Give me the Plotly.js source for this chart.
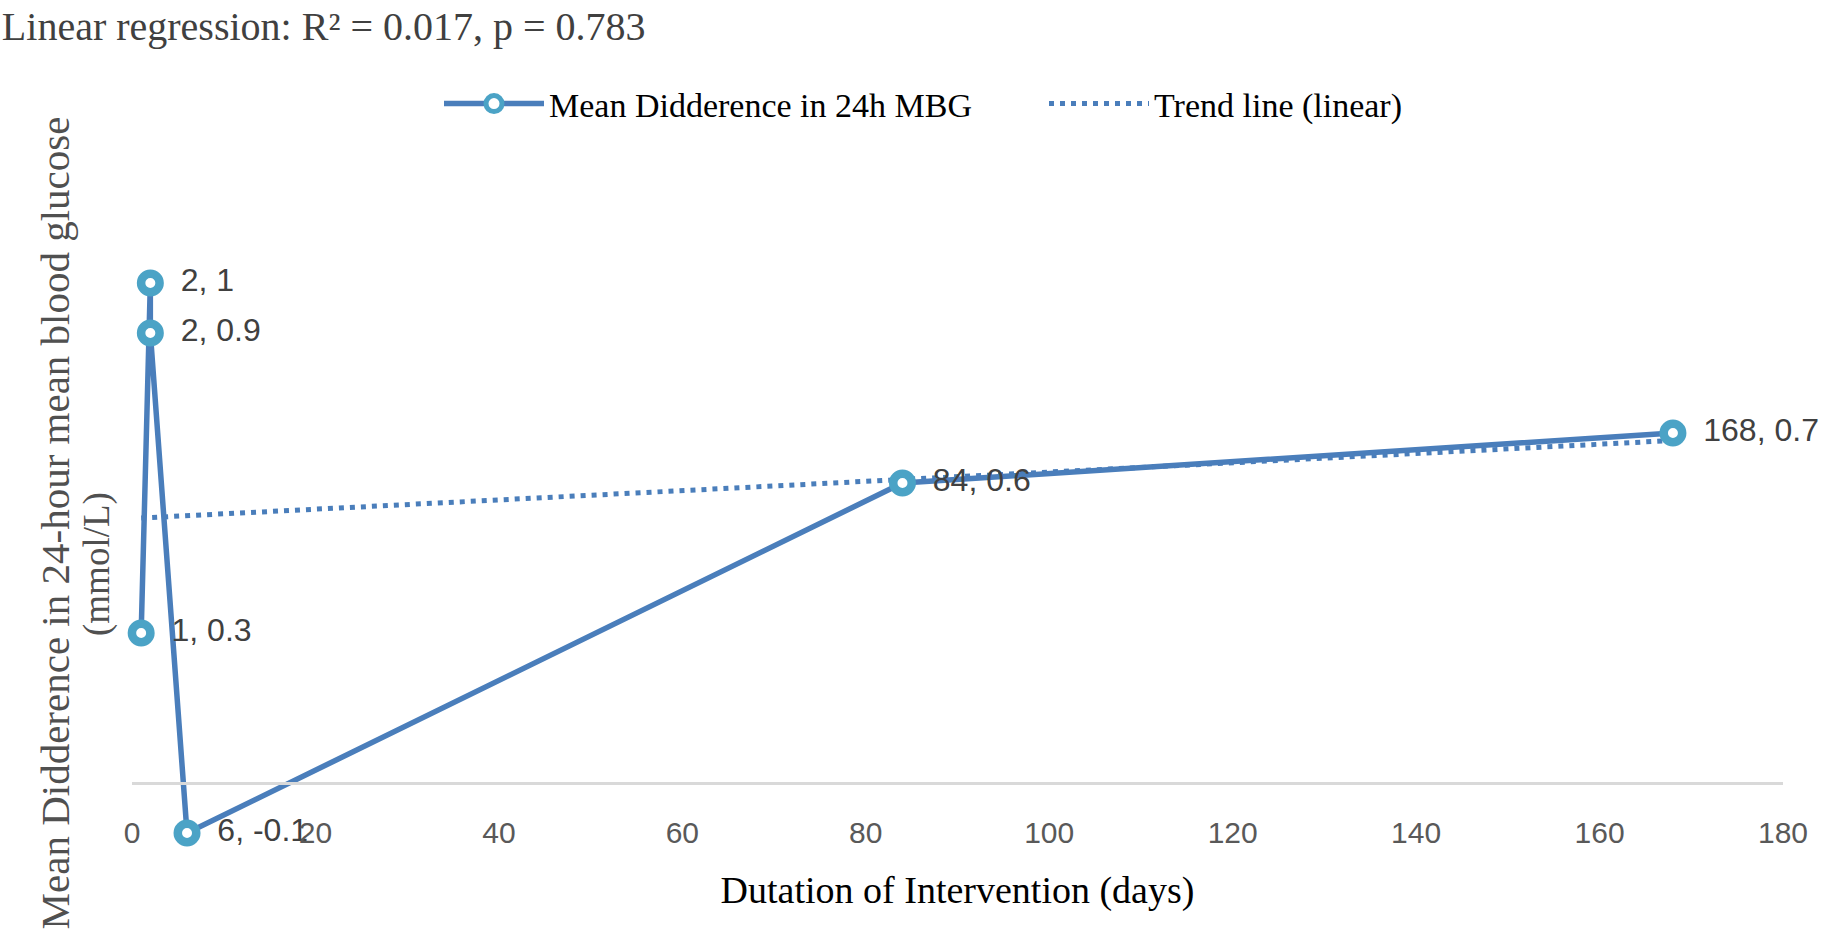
<!DOCTYPE html>
<html>
<head>
<meta charset="utf-8">
<script src="https://cdn.plot.ly/plotly-3.0.1.min.js"></script>
<style>html,body{margin:0;padding:0;background:#fff;}#chart{width:1833px;height:946px;}</style>
</head>
<body>
<div id="chart"></div>
<script>
// Data
const durationDays = [1, 2, 2, 6, 84, 168];
const meanDiffMBG = [0.3, 1, 0.9, -0.1, 0.6, 0.7];
const trendX = [1, 168];
const trendY = [0.53, 0.685];
const xTickVals = [0, 20, 40, 60, 80, 100, 120, 140, 160, 180];

const seriesName = 'Mean Didderence in 24h MBG';
const trendName = 'Trend line (linear)';
const titleText = 'Linear regression: R² = 0.017, p = 0.783';
const xTitle = 'Dutation of Intervention (days)';
const yTitle = 'Mean Didderence in 24-hour mean blood glucose';
const yUnit = '(mmol/L)';

const labels = durationDays.map((x, i) => '\u00A0\u00A0' + x + ', ' + meanDiffMBG[i]);

const SERIF = 'Liberation Serif, Times New Roman, serif';
const SANS = 'Liberation Sans, Arial, sans-serif';

const yRange = [-0.24, 1.28];
const zeroPos = (0 - yRange[0]) / (yRange[1] - yRange[0]);

const traces = [
  {
    x: trendX, y: trendY, type: 'scatter', mode: 'lines', name: trendName,
    legendrank: 2,
    line: {color: '#4A7EBB', width: 5, dash: '5px,6px'},
    hoverinfo: 'skip'
  },
  {
    x: durationDays, y: meanDiffMBG, type: 'scatter', mode: 'lines+markers+text',
    name: seriesName, legendrank: 1,
    text: labels, textposition: 'middle right',
    textfont: {family: SANS, size: 32, color: '#404040'},
    cliponaxis: false,
    line: {color: '#4A7EBB', width: 5.5},
    marker: {symbol: 'circle', size: 18.5, color: '#FFFFFF', line: {color: '#4BA3C6', width: 8.5}}
  }
];

const layout = {
  width: 1833, height: 946,
  margin: {l: 132, r: 50, t: 143, b: 43, pad: 0},
  paper_bgcolor: '#FFFFFF', plot_bgcolor: '#FFFFFF',
  title: {
    text: titleText, xref: 'container', yref: 'container', x: 0.001, xanchor: 'left',
    y: 1 - 26 / 946, yanchor: 'middle',
    font: {family: SERIF, size: 40, color: '#404040'}
  },
  showlegend: true,
  legend: {
    orientation: 'h', xref: 'paper', yref: 'container',
    x: (439 - 132) / 1651, xanchor: 'left', y: 1 - 104 / 946, yanchor: 'middle',
    font: {family: SERIF, size: 34, color: '#000000'},
    itemwidth: 100, entrywidth: 490, bgcolor: 'rgba(0,0,0,0)', traceorder: 'normal'
  },
  xaxis: {
    range: [0, 180], tickvals: xTickVals, ticktext: xTickVals.map(String),
    showgrid: false, zeroline: false,
    showline: true, linecolor: '#D9D9D9', linewidth: 2.5,
    anchor: 'free', position: zeroPos,
    ticks: '', ticklabelstandoff: 22,
    tickfont: {family: SANS, size: 30, color: '#595959'},
    title: {text: xTitle, font: {family: SERIF, size: 38, color: '#000000'}, standoff: 28}
  },
  yaxis: {
    range: yRange, showgrid: false, zeroline: false, showline: false,
    showticklabels: false, ticks: '',
    title: {text: yTitle, font: {family: SERIF, size: 41, color: '#505050'}, standoff: 48}
  },
  annotations: [
    {
      text: yUnit, xref: 'paper', yref: 'paper',
      x: (97 - 132) / 1651, y: (903 - 564) / 760,
      xanchor: 'center', yanchor: 'middle', textangle: -90, showarrow: false,
      font: {family: SERIF, size: 37, color: '#505050'}
    }
  ]
};

Plotly.newPlot('chart', traces, layout, {displayModeBar: false, staticPlot: true});
</script>
</body>
</html>
